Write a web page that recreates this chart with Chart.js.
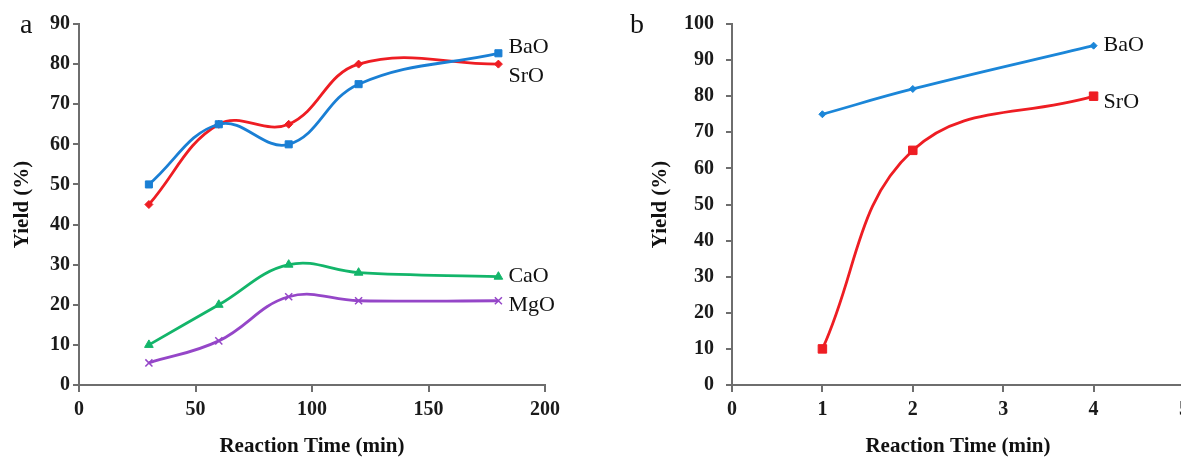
<!DOCTYPE html>
<html>
<head>
<meta charset="utf-8">
<script src="https://cdn.jsdelivr.net/npm/chart.js@4.4.1/dist/chart.umd.min.js"></script>
<style>
  html, body { margin: 0; padding: 0; background: #fff; overflow: hidden; }
  #wrap { position: relative; width: 1181px; height: 461px; overflow: hidden; }
  canvas { position: absolute; top: 0; }
  .tag { position: absolute; font-family: "Liberation Serif", serif; font-size: 28px; color: #111; }
</style>
</head>
<body>
<div id="wrap">
  <canvas id="chartA" width="600" height="461" style="left:0"></canvas>
  <canvas id="chartB" width="620" height="461" style="left:600px"></canvas>
  <div class="tag" style="left:20px; top:8px;">a</div>
  <div class="tag" style="left:630px; top:8px;">b</div>
</div>
<script>
// panel a
const timesA = [30, 60, 90, 120, 180];
const baoA = [50, 65, 60, 75, 82.7];
const sroA = [45, 65, 65, 80, 80];
const caoA = [10, 20, 30, 28, 27];
const mgoA = [5.5, 11, 22, 21, 21];
const xTicksA = [0, 50, 100, 150, 200];
const yTicksA = [0, 10, 20, 30, 40, 50, 60, 70, 80, 90];

// panel b
const timesB = [1, 2, 4];
const baoB = [75, 82, 94];
const sroB = [10, 65, 80];
const xTicksB = [0, 1, 2, 3, 4, 5];
const yTicksB = [0, 10, 20, 30, 40, 50, 60, 70, 80, 90, 100];

const serif = "'Liberation Serif', 'Times New Roman', serif";
const axisGrey = "#6e6e6e";

function pts(xs, ys) {
  return xs.map((x, i) => ({ x: x, y: ys[i] }));
}

// names written next to the last point of each line
const endLabels = {
  id: "endLabels",
  afterDatasetsDraw(chart) {
    const ctx = chart.ctx;
    ctx.save();
    ctx.font = "22px " + serif;
    ctx.fillStyle = "#111";
    ctx.textBaseline = "middle";
    ctx.textAlign = "left";
    chart.data.datasets.forEach((ds, i) => {
      const meta = chart.getDatasetMeta(i);
      const last = meta.data[meta.data.length - 1];
      ctx.fillText(ds.label, last.x + 10, last.y + (ds.labelDy || 0));
    });
    ctx.restore();
  },
};

function line(label, data, color, style, radius, dy) {
  return {
    label: label,
    data: data,
    borderColor: color,
    backgroundColor: color,
    borderWidth: 2.8,
    tension: 0.4,
    pointStyle: style,
    pointRadius: radius,
    pointBorderWidth: style === "crossRot" ? 1.5 : 1,
    labelDy: dy,
  };
}

function axes(xTicks, yTicks, yWidth, titlePadY, tickPadY) {
  const tickFont = { family: serif, size: 20, weight: "bold" };
  return {
    x: {
      type: "linear",
      min: xTicks[0],
      max: xTicks[xTicks.length - 1],
      afterBuildTicks: (s) => { s.ticks = xTicks.map((v) => ({ value: v })); },
      afterFit: (s) => { s.height = 76; },
      border: { display: true, color: axisGrey, width: 2 },
      grid: { drawOnChartArea: false, drawTicks: true, tickLength: 7, color: axisGrey, lineWidth: 2 },
      ticks: { color: "#1a1a1a", font: tickFont, padding: 6, maxRotation: 0 },
      title: {
        display: true,
        text: "Reaction Time (min)",
        color: "#111",
        font: { family: serif, size: 21, weight: "bold" },
        padding: { top: 0, bottom: 2 },
      },
    },
    y: {
      type: "linear",
      min: yTicks[0],
      max: yTicks[yTicks.length - 1],
      afterBuildTicks: (s) => { s.ticks = yTicks.map((v) => ({ value: v })); },
      afterFit: (s) => { s.width = yWidth; },
      border: { display: true, color: axisGrey, width: 2 },
      grid: { drawOnChartArea: false, drawTicks: true, tickLength: 6, color: axisGrey, lineWidth: 2 },
      ticks: { color: "#1a1a1a", font: tickFont, padding: tickPadY },
      title: {
        display: true,
        text: "Yield (%)",
        color: "#111",
        font: { family: serif, size: 21, weight: "bold" },
        padding: { top: titlePadY, bottom: 0 },
      },
    },
  };
}

const common = {
  responsive: false,
  animation: false,
  plugins: { legend: { display: false }, tooltip: { enabled: false } },
};

new Chart(document.getElementById("chartA"), {
  type: "line",
  data: {
    datasets: [
      line("BaO", pts(timesA, baoA), "#1a7fd4", "rect", 5, -6),
      line("SrO", pts(timesA, sroA), "#ee1d23", "rectRot", 4, 12),
      line("CaO", pts(timesA, caoA), "#13b56a", "triangle", 5, 0),
      line("MgO", pts(timesA, mgoA), "#9546c8", "crossRot", 5, 4),
    ],
  },
  options: Object.assign({}, common, {
    layout: { padding: { left: 0, top: 24, right: 55, bottom: 0 } },
    scales: axes(xTicksA, yTicksA, 79, 10, 3),
  }),
  plugins: [endLabels],
});

new Chart(document.getElementById("chartB"), {
  type: "line",
  data: {
    datasets: [
      line("BaO", pts(timesB, baoB), "#1b86d8", "rectRot", 3.5, 0),
      line("SrO", pts(timesB, sroB), "#ee1d23", "rect", 6, 6),
    ],
  },
  options: Object.assign({}, common, {
    layout: { padding: { left: 0, top: 23, right: 36, bottom: 0 } },
    scales: axes(xTicksB, yTicksB, 132, 48, 12),
  }),
  plugins: [endLabels],
});
</script>
</body>
</html>
